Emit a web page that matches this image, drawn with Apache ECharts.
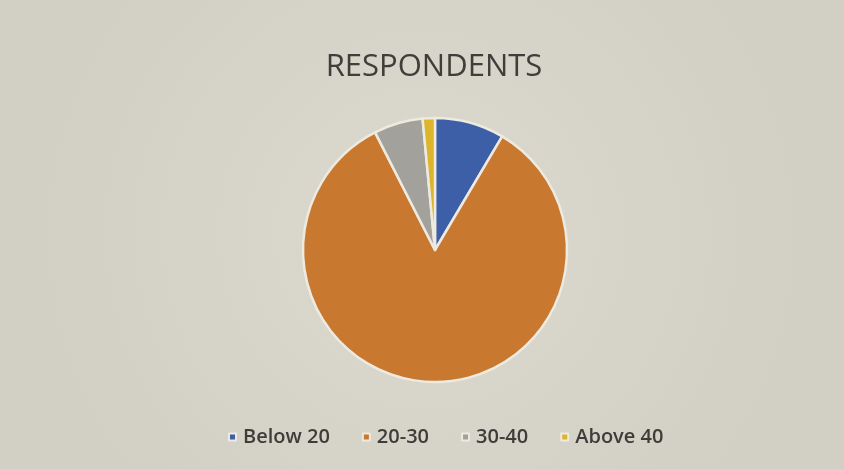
<!DOCTYPE html>
<html>
<head>
<meta charset="utf-8">
<script src="https://cdn.jsdelivr.net/npm/echarts@6/dist/echarts.min.js"></script>
<style>
  html, body { margin: 0; padding: 0; background: #d8d5cb; }
  #chart { width: 844px; height: 469px; }
</style>
</head>
<body>
<div id="chart"></div>
<script>
// Age groups of respondents
const categories = ['Below 20', '20-30', '30-40', 'Above 40'];
const values = [8.5, 84, 6, 1.5];
const colors = ['#3d5fa8', '#c8792f', '#a3a19c', '#dcb52c'];

const chart = echarts.init(document.getElementById('chart'));
chart.setOption({
  backgroundColor: {
    type: 'radial', x: 0.5, y: 0.5, r: 0.8,
    colorStops: [
      { offset: 0, color: '#dcd9cf' },
      { offset: 1, color: '#d2cfc5' }
    ]
  },
  title: {
    text: 'RESPONDENTS',
    left: 429,
    textAlign: 'center',
    top: 47,
    textStyle: { fontFamily: 'Open Sans', fontSize: 31, fontWeight: 500, color: '#3f3e3a' }
  },
  legend: {
    bottom: 17,
    left: 223,
    itemWidth: 7,
    itemHeight: 7,
    itemGap: 32,
    icon: 'rect',
    data: categories,
    textStyle: { fontFamily: 'Open Sans', fontSize: 20, fontWeight: 600, color: '#3e3d39', padding: [0, 0, 0, 2] }
  },
  series: [{
    type: 'pie',
    center: [435, 250],
    radius: 132,
    startAngle: 90,
    clockwise: true,
    label: { show: false },
    labelLine: { show: false },
    emphasis: { disabled: true },
    itemStyle: { borderColor: '#eeeae0', borderWidth: 2.5 },
    data: categories.map((c, i) => ({ name: c, value: values[i], itemStyle: { color: colors[i] } }))
  }],
  color: colors
});
</script>
</body>
</html>
